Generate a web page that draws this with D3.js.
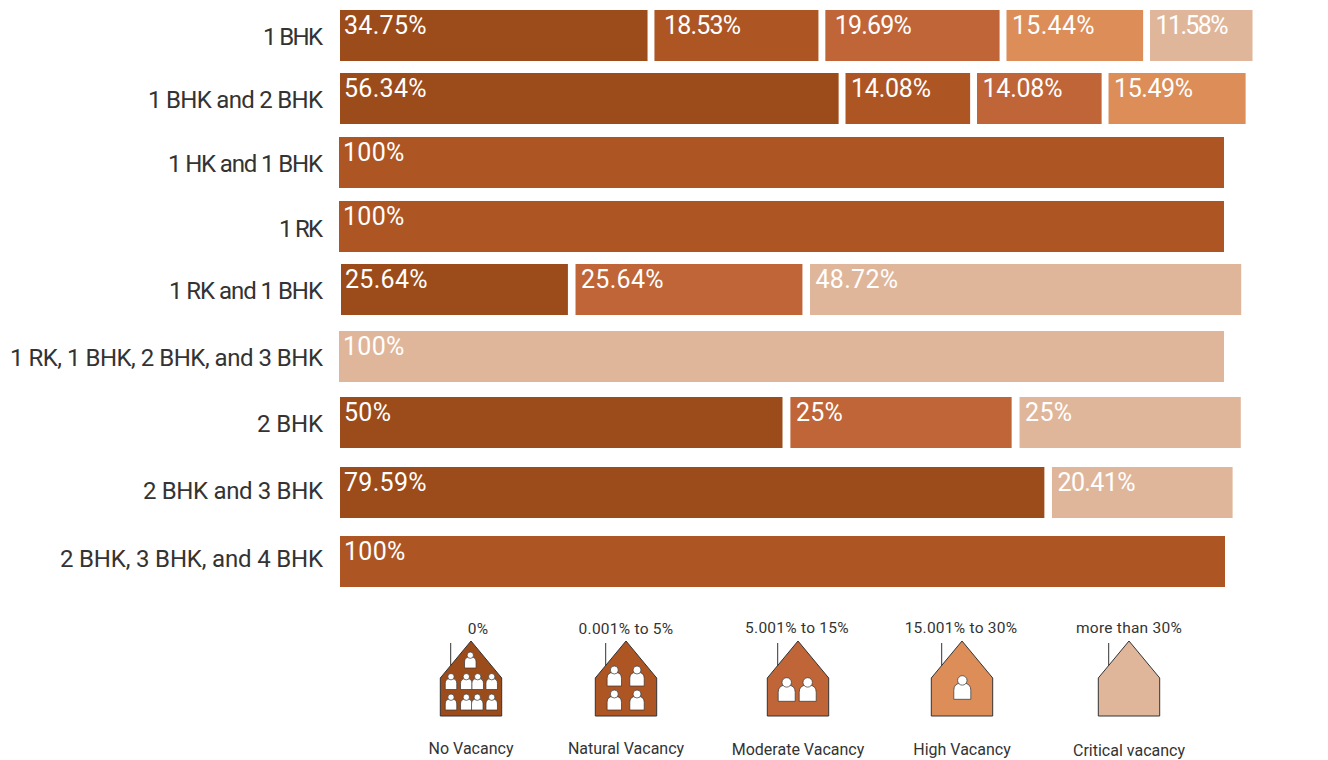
<!DOCTYPE html>
<html>
<head>
<meta charset="utf-8">
<script src="https://cdn.jsdelivr.net/npm/d3@7"></script>
<style>
  html, body { margin: 0; padding: 0; background: #fff; }
  svg { display: block; }
  text { font-family: Roboto, sans-serif; }
</style>
</head>
<body>
<svg id="chart" width="1328" height="760"></svg>
<script>
// Rental configurations, top to bottom
const categories = [
  "1 BHK", "1 BHK and 2 BHK", "1 HK and 1 BHK", "1 RK", "1 RK and 1 BHK",
  "1 RK, 1 BHK, 2 BHK, and 3 BHK", "2 BHK", "2 BHK and 3 BHK", "2 BHK, 3 BHK, and 4 BHK"
];
// Share of listings per configuration
const shares = [
  [34.75, 18.53, 19.69, 15.44, 11.58],
  [56.34, 14.08, 14.08, 15.49],
  [100],
  [100],
  [25.64, 25.64, 48.72],
  [100],
  [50, 25, 25],
  [79.59, 20.41],
  [100]
];
// Vacancy band of each share, as an index into vacancyNames
const bands = [
  [0, 1, 2, 3, 4],
  [0, 1, 2, 3],
  [1],
  [1],
  [0, 2, 4],
  [4],
  [0, 2, 4],
  [0, 4],
  [1]
];
const shareLabels = [
  ["34.75%", "18.53%", "19.69%", "15.44%", "11.58%"],
  ["56.34%", "14.08%", "14.08%", "15.49%"],
  ["100%"],
  ["100%"],
  ["25.64%", "25.64%", "48.72%"],
  ["100%"],
  ["50%", "25%", "25%"],
  ["79.59%", "20.41%"],
  ["100%"]
];
const vacancyNames = ["No Vacancy", "Natural Vacancy", "Moderate Vacancy", "High Vacancy", "Critical vacancy"];
const vacancyRanges = ["0%", "0.001% to 5%", "5.001% to 15%", "15.001% to 30%", "more than 30%"];
const vacancyColors = ["#9c4c1a", "#ae5524", "#c06538", "#dc8d58", "#e0b69b"];

const svg = d3.select("#chart");
const ink = "#333333";

const x = d3.scaleLinear().domain([0, 100]).range([0, 885]);
const rowTop = d3.scaleOrdinal(categories, [10, 73, 137, 201, 264, 331, 397, 467, 536]);
const rowStart = d3.scaleOrdinal(categories, [340, 340, 339, 339, 341, 339, 340, 340, 340]);
const rowGap = d3.scaleOrdinal(categories, [6.9, 6.9, 0, 0, 7.6, 0, 7.9, 7.6, 0]);
const labelMiddle = d3.scaleOrdinal(categories, [36, 99, 163, 228, 290, 357, 423, 490, 558]);
const labelWidth = d3.scaleOrdinal(categories, [60, 175, 155, 44, 154, 313, 66, 180, 263]);
const color = d3.scaleOrdinal(d3.range(vacancyNames.length), vacancyColors);
const barHeight = 51;

// Labels whose narrow digits need tighter setting
const fittedValueWidth = new Map([
  ["18.53%", 77], ["19.69%", 77], ["11.58%", 73],
  ["15.49%", 79], ["14.08%", 80], ["20.41%", 78]
]);

// Value labels sit just inside each bar's left edge
function valueInset(i, r) {
  if (r === 0 && (i === 1 || i === 2)) return 9.5;
  return i === 0 ? 4 : 5.5;
}

// One group per configuration: category label plus its run of separated bars
const rows = svg.selectAll("g.row").data(categories).join("g").attr("class", "row");

rows.append("text")
  .attr("x", 323)
  .attr("y", d => labelMiddle(d))
  .attr("dy", "0.36em")
  .attr("text-anchor", "end")
  .attr("font-size", 24)
  .attr("textLength", d => labelWidth(d))
  .attr("lengthAdjust", "spacing")
  .attr("fill", ink)
  .text(d => d);

rows.each(function (cat, r) {
  let cum = 0;
  const segs = shares[r].map((v, i) => {
    const s = {
      value: v, band: bands[r][i], label: shareLabels[r][i],
      inset: valueInset(i, r),
      x0: rowStart(cat) + x(cum) + rowGap(cat) * i
    };
    cum += v;
    return s;
  });
  const g = d3.select(this);
  g.selectAll("rect").data(segs).join("rect")
    .attr("x", d => d.x0)
    .attr("y", rowTop(cat))
    .attr("width", d => x(d.value))
    .attr("height", barHeight)
    .attr("fill", d => color(d.band));
  g.selectAll("text.val").data(segs).join("text")
    .attr("class", "val")
    .attr("x", d => d.x0 + d.inset)
    .attr("y", rowTop(cat) + 24)
    .attr("font-size", 25)
    .attr("letter-spacing", d => fittedValueWidth.has(d.label) ? null : "0.3")
    .attr("textLength", d => fittedValueWidth.get(d.label) ?? null)
    .attr("lengthAdjust", "spacing")
    .attr("fill", "#ffffff")
    .text(d => d.label);
});

// Legend: a house per vacancy band, holding fewer tenants as vacancy rises
const houseMiddle = d3.scaleOrdinal(d3.range(5), [471, 626, 798, 962, 1129]);
const rangeMiddle = d3.scaleOrdinal(d3.range(5), [478, 626, 797, 961, 1129]);
const rangeBase = d3.scaleOrdinal(d3.range(5), [634, 633.5, 633, 633, 632.5]);
const nameBase = d3.scaleOrdinal(d3.range(5), [753.5, 753.5, 754.5, 754.5, 756]);

// Tenant placement inside each house: [offset x, bottom y, icon height]
const tenants = [
  [[-0.7, 668, 16], [-20, 689.5, 16], [-4.7, 689.5, 16], [6.7, 689.5, 16], [20.7, 689.5, 16],
   [-20, 710, 16], [-4.7, 710, 16], [6.3, 710, 16], [20.7, 710, 16]],
  [[-11.7, 686, 20], [11, 686, 20], [-11.7, 710, 20], [11, 710, 20]],
  [[-11.3, 701.3, 23.6], [9.7, 701.3, 23.6]],
  [[0.3, 699.3, 23.6]],
  []
];

function personBody(h) {
  const w = h * 0.72, top = -h * 0.68, r = w * 0.42;
  return `M${-w / 2},0V${top + r}Q${-w / 2},${top} ${-w / 2 + r},${top}H${w / 2 - r}Q${w / 2},${top} ${w / 2},${top + r}V0Z`;
}

const houses = svg.selectAll("g.house").data(vacancyNames).join("g").attr("class", "house");

houses.each(function (name, i) {
  const g = d3.select(this);
  const cx = houseMiddle(i);
  g.append("line")
    .attr("x1", cx - 20.3).attr("x2", cx - 20.3)
    .attr("y1", 643).attr("y2", 666)
    .attr("stroke", ink).attr("stroke-width", 1);
  g.append("path")
    .attr("d", `M${cx},641L${cx + 30.7},678V716H${cx - 30.7}V678Z`)
    .attr("fill", color(i))
    .attr("stroke", ink)
    .attr("stroke-width", 1);
  tenants[i].forEach(([dx, bottom, h]) => {
    const p = g.append("g").attr("transform", `translate(${cx + dx},${bottom})`);
    p.append("path").attr("d", personBody(h))
      .attr("fill", "#fff").attr("stroke", ink).attr("stroke-width", 0.7);
    p.append("circle").attr("cy", -h * 0.8).attr("r", h * 0.2)
      .attr("fill", "#fff").attr("stroke", ink).attr("stroke-width", 0.7);
  });
  g.append("text")
    .attr("x", rangeMiddle(i)).attr("y", rangeBase(i))
    .attr("text-anchor", "middle")
    .attr("font-size", 15.5).attr("letter-spacing", "0.25").attr("fill", ink)
    .text(vacancyRanges[i]);
  g.append("text")
    .attr("x", cx).attr("y", nameBase(i))
    .attr("text-anchor", "middle")
    .attr("font-size", 16).attr("fill", ink)
    .text(name);
});
</script>
</body>
</html>
